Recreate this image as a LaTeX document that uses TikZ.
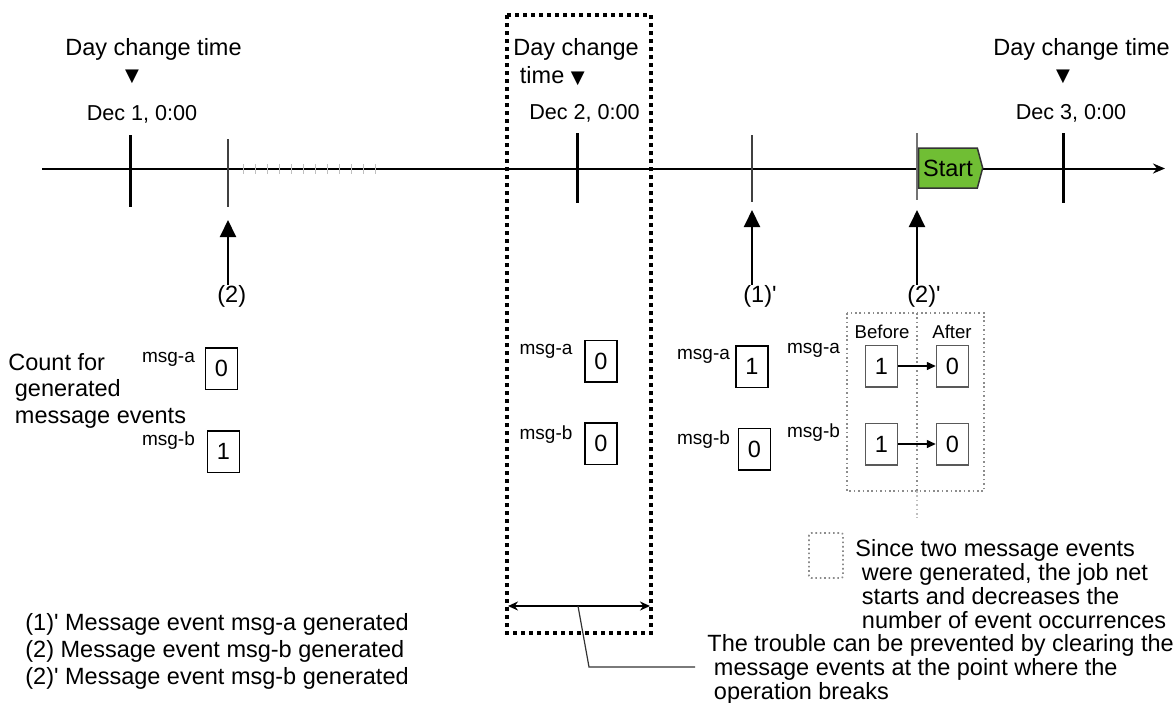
\documentclass[tikz,border=0pt]{standalone}
\usepackage{fontspec}
\setmainfont{Liberation Sans}
\newfontfamily\symfont{DejaVu Sans}
\usepackage{tikz}
\usetikzlibrary{arrows.meta,shapes.symbols}

% font sizes
\newcommand{\mainsz}{\fontsize{11.75}{13}\selectfont}
\newcommand{\decsz}{\fontsize{10.8}{12}\selectfont}
\newcommand{\msgsz}{\fontsize{9.5}{11}\selectfont}
\newcommand{\tabsz}{\fontsize{9.3}{11}\selectfont}
\newcommand{\tri}{{\symfont\fontsize{9}{9}\selectfont ▼}}

\tikzset{
  txt/.style={inner sep=0pt, font=\mainsz},
  dectxt/.style={inner sep=0pt, anchor=base, font=\decsz},
  msgtxt/.style={inner sep=0pt, anchor=base, font=\msgsz},
  cnt/.style={draw, line width=0.75pt, minimum width=16pt, minimum height=20.75pt, inner sep=0pt, font=\mainsz},
  cntgray/.style={cnt, draw=black!65},
  ticktall/.style={line width=1.5pt},
  tickthin/.style={line width=0.75pt, black!75},
  minitick/.style={line width=0.5pt, black!25},
  up/.style={-{Triangle[width=8pt,length=8.5pt]}, line width=1pt},
  grydot/.style={draw=black!45, line width=0.8pt, dash pattern=on 0.8pt off 1.4pt},
}

\begin{document}
\begin{tikzpicture}[x=0.5pt,y=-0.5pt]

        % Define colors
        \definecolor{startgreen}{RGB}{112,190,52} % Start box

        \useasboundingbox (0,0) rectangle (1176,702);

        % Time axis
        \draw[line width=1pt, -{Stealth[length=6pt,width=5pt]}] (42,168.5) -- (1165,168.5);
        \foreach \x in {243,255,...,375}
          \draw[minitick] (\x,164) -- (\x,174); % faded part

        % Ticks
        \draw[ticktall] (130,135) -- (130,207); % Dec 1
        \draw[tickthin] (228,139) -- (228,207); % (2)
        \draw[ticktall] (577,133) -- (577,203); % Dec 2
        \draw[tickthin] (752,135) -- (752,202); % (1)'
        \draw[tickthin, black!55] (917,133) -- (917,200); % (2)'
        \draw[ticktall] (1063,133) -- (1063,203); % Dec 3

        % Start of the job net
        \node[signal, signal to=east, signal pointer angle=150, draw=black!80, line width=0.75pt,
              fill=startgreen, minimum width=32pt, minimum height=20pt, inner sep=0pt,
              font=\mainsz] (start) at (948,168) {Start};

        % Day change labels
        \node[txt, anchor=base] (dct1) at (153.5,55) {Day change time};
        \node[inner sep=0pt] (tri1) at (132,77) {\tri};
        \node[dectxt] (dec1) at (142,120) {Dec 1, 0:00};
        \node[txt, anchor=base west, align=left, font=\fontsize{11.75}{14}\selectfont] (dct2) at (513,83) {Day change\\\ time \tri};
        \node[dectxt] (dec2) at (584.5,119) {Dec 2, 0:00};
        \node[txt, anchor=base] (dct3) at (1081.5,55) {Day change time};
        \node[inner sep=0pt] (tri3) at (1063,77) {\tri};
        \node[dectxt] (dec3) at (1071,119) {Dec 3, 0:00};

        % Break of the operation
        \draw[line width=2pt, dash pattern=on 2pt off 2pt] (507,15) rectangle (651,633);
        \coordinate (brkl) at (508,606);
        \coordinate (brkr) at (650,606);
        \draw[line width=1pt, {Stealth[length=5pt,width=4.5pt]}-{Stealth[length=5pt,width=4.5pt]}] (brkl) -- (brkr);

        % Event arrows
        \coordinate (tip2) at (228,220);
        \coordinate (tip1p) at (752,210);
        \coordinate (tip2p) at (917,210);
        \node[txt, anchor=base west] (lbl2) at (217,302) {(2)};
        \node[txt, anchor=base west] (lbl1p) at (743,302) {(1)\textquotesingle};
        \node[txt, anchor=base west] (lbl2p) at (907,302) {(2)\textquotesingle};
        \draw[up] (lbl2.north -| tip2) -- (tip2);
        \draw[up] (lbl1p.north -| tip1p) -- (tip1p);
        \draw[up] (lbl2p.north -| tip2p) -- (tip2p);

        % Counts after (2)
        \node[txt, anchor=base west, align=left, font=\fontsize{11.75}{13.25}\selectfont] (cntlbl) at (8,423) {Count for\\\ generated\\\ message events};
        \node[msgtxt] (ma1) at (168.5,362) {msg-a};
        \node[msgtxt] (mb1) at (168.5,445) {msg-b};
        \node[cnt] (ca1) at (221.5,368.5) {0};
        \node[cnt] (cb1) at (223.5,451.5) {1};

        % Counts at Dec 2
        \node[msgtxt] (ma2) at (546,354) {msg-a};
        \node[msgtxt] (mb2) at (546,439) {msg-b};
        \node[cnt] (ca2) at (601,361) {0};
        \node[cnt] (cb2) at (601,443.5) {0};

        % Counts after (1)'
        \node[msgtxt] (ma3) at (703.5,359) {msg-a};
        \node[msgtxt] (mb3) at (703.5,444) {msg-b};
        \node[cnt] (ca3) at (752,366.5) {1};
        \node[cnt] (cb3) at (754.5,449) {0};

        % Counts at (2)'
        \draw[grydot] (847,313) rectangle (984,491);
        \draw[grydot] (917,313) -- (917,491);
        \draw[grydot, draw=black!25] (917,491) -- (917,518);
        \node[inner sep=0pt, anchor=base, font=\tabsz] (bef) at (882,338) {Before};
        \node[inner sep=0pt, anchor=base, font=\tabsz] (aft) at (952,338) {After};
        \node[msgtxt] (ma4) at (813.5,353) {msg-a};
        \node[msgtxt] (mb4) at (813.5,437) {msg-b};
        \node[cntgray] (ca4) at (881.5,366) {1};
        \node[cntgray] (cb4) at (881.5,444) {1};
        \node[cntgray] (ca5) at (952.5,366) {0};
        \node[cntgray] (cb5) at (952.5,444) {0};
        \draw[line width=0.75pt, -{Triangle[length=4.5pt,width=4pt]}] (ca4) -- (ca5);
        \draw[line width=0.75pt, -{Triangle[length=4.5pt,width=4pt]}] (cb4) -- (cb5);

        % Notes
        \draw[grydot, rounded corners=1pt] (809,533) rectangle (843,578);
        \node[txt, anchor=base west, align=left, font=\fontsize{11.75}{11.85}\selectfont] (since) at (855,628) {Since two message events\\\ were generated, the job net\\\ starts and decreases the\\\ number of event occurrences};
        \node[txt, anchor=base west, align=left, font=\fontsize{11.75}{12}\selectfont] (trouble) at (707,699) {The trouble can be prevented by clearing the\\\ message events at the point where the\\\ operation breaks};
        \coordinate (ld) at (578,606);
        \coordinate (ldend) at (695,667);
        \draw[line width=0.6pt, black!80] (ld) -- (589,667) -- (ldend);

        % Legend
        \node[txt, anchor=base west, align=left, font=\fontsize{11.75}{13.5}\selectfont] (legend) at (25,684) {(1)\textquotesingle\ Message event msg-a generated\\(2) Message event msg-b generated\\(2)\textquotesingle\ Message event msg-b generated};
        \end{tikzpicture}
\end{document}
